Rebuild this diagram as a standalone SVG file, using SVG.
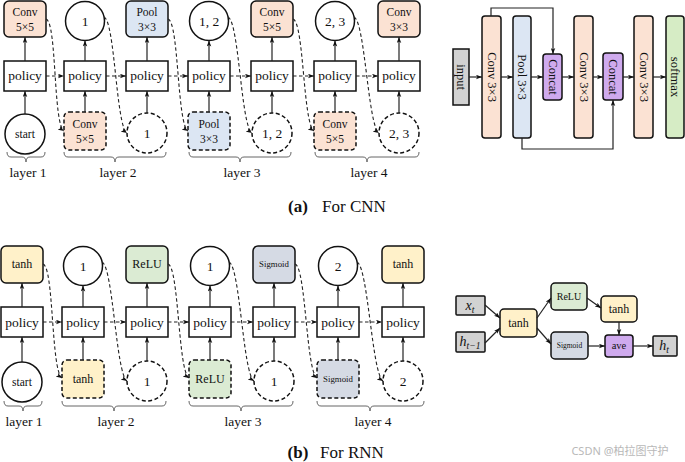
<svg xmlns="http://www.w3.org/2000/svg" width="685" height="462" viewBox="0 0 685 462">
<style>
text{font-family:"Liberation Serif","Times New Roman",serif;fill:#111;text-anchor:middle}
.n{stroke:#111;stroke-width:1.5}
.d{stroke-dasharray:4 2.5}
.pol{fill:#fff}
.cir{fill:#fff}
.or{fill:#fbe2d3}
.bl{fill:#dce6f3}
.pu{fill:#cfaaee}
.gr{fill:#d6ecc5}
.gy{fill:#d2d2d2}
.ye{fill:#fff1c9}
.rg{fill:#dbebd3}
.sg{fill:#d5dae4}
.t11{font-size:11.5px}
.t13{font-size:13.5px}
.sig{font-size:8.8px}
.c{fill:none;stroke:#222;stroke-width:1.2}
.dc{fill:none;stroke:#222;stroke-width:1.1;stroke-dasharray:3.5 2.5}
.br{fill:none;stroke:#666;stroke-width:1}
.rot{font-size:12.5px}
.cap{font-size:17px}
</style>
<defs>
<marker id="ah" viewBox="0 0 8 6" refX="8" refY="3" markerWidth="6" markerHeight="5" orient="auto" markerUnits="userSpaceOnUse"><path d="M0,0 L8,3 L0,6 L2,3 z" fill="#111"/></marker>
</defs>

<!-- ===== CNN search ===== -->
<g id="cnn-top-0"><rect class="n or" x="4" y="1" width="42" height="36" rx="5"/><text class="t11" x="25" y="16">Conv</text><text class="t11" x="25" y="31">5×5</text></g>
<g id="cnn-top-1"><circle class="n cir" cx="85" cy="21" r="19.5"/><text class="t13" x="85" y="26">1</text></g>
<g id="cnn-top-2"><rect class="n bl" x="126" y="1" width="42" height="36" rx="5"/><text class="t11" x="147" y="16">Pool</text><text class="t11" x="147" y="31">3×3</text></g>
<g id="cnn-top-3"><circle class="n cir" cx="209" cy="21" r="19.5"/><text class="t13" x="209" y="26">1, 2</text></g>
<g id="cnn-top-4"><rect class="n or" x="251" y="1" width="42" height="36" rx="5"/><text class="t11" x="272" y="16">Conv</text><text class="t11" x="272" y="31">5×5</text></g>
<g id="cnn-top-5"><circle class="n cir" cx="335" cy="21" r="19.5"/><text class="t13" x="335" y="26">2, 3</text></g>
<g id="cnn-top-6"><rect class="n or" x="378" y="1" width="42" height="36" rx="5"/><text class="t11" x="399" y="16">Conv</text><text class="t11" x="399" y="31">3×3</text></g>

<g id="cnn-pol-0"><rect class="n pol" x="4" y="61" width="42" height="30"/><text class="t13" x="25" y="80">policy</text></g>
<g id="cnn-pol-1"><rect class="n pol" x="64" y="61" width="42" height="30"/><text class="t13" x="85" y="80">policy</text></g>
<g id="cnn-pol-2"><rect class="n pol" x="126" y="61" width="42" height="30"/><text class="t13" x="147" y="80">policy</text></g>
<g id="cnn-pol-3"><rect class="n pol" x="188" y="61" width="42" height="30"/><text class="t13" x="209" y="80">policy</text></g>
<g id="cnn-pol-4"><rect class="n pol" x="251" y="61" width="42" height="30"/><text class="t13" x="272" y="80">policy</text></g>
<g id="cnn-pol-5"><rect class="n pol" x="314" y="61" width="42" height="30"/><text class="t13" x="335" y="80">policy</text></g>
<g id="cnn-pol-6"><rect class="n pol" x="378" y="61" width="42" height="30"/><text class="t13" x="399" y="80">policy</text></g>

<g id="cnn-bot-0"><circle class="n cir" cx="25" cy="134" r="20"/><text class="t11" x="25" y="138">start</text></g>
<g id="cnn-bot-1"><rect class="n d or" x="64" y="112" width="42" height="38" rx="5"/><text class="t11" x="85" y="128">Conv</text><text class="t11" x="85" y="143">5×5</text></g>
<g id="cnn-bot-2"><circle class="n d cir" cx="147" cy="133" r="20"/><text class="t13" x="147" y="138">1</text></g>
<g id="cnn-bot-3"><rect class="n d bl" x="188" y="112" width="42" height="38" rx="5"/><text class="t11" x="209" y="128">Pool</text><text class="t11" x="209" y="143">3×3</text></g>
<g id="cnn-bot-4"><circle class="n d cir" cx="272" cy="133" r="20"/><text class="t13" x="272" y="138">1, 2</text></g>
<g id="cnn-bot-5"><rect class="n d or" x="314" y="112" width="42" height="38" rx="5"/><text class="t11" x="335" y="128">Conv</text><text class="t11" x="335" y="143">5×5</text></g>
<g id="cnn-bot-6"><circle class="n d cir" cx="399" cy="133" r="20"/><text class="t13" x="399" y="138">2, 3</text></g>

<g id="cnn-braces">
<path class="br" d="M7 152 Q7 157 11 157 H22 Q26 157 26 162 Q26 157 30 157 H41 Q45 157 45 152"/>
<path class="br" d="M64 152 Q64 157 68 157 H111 Q115 157 115 162 Q115 157 119 157 H162 Q166 157 166 152"/>
<path class="br" d="M189 152 Q189 157 193 157 H236 Q240 157 240 162 Q240 157 244 157 H287 Q291 157 291 152"/>
<path class="br" d="M315 152 Q315 157 319 157 H363 Q367 157 367 162 Q367 157 371 157 H415 Q419 157 419 152"/>
<text class="t13" x="28" y="177">layer 1</text>
<text class="t13" x="118" y="177">layer 2</text>
<text class="t13" x="242" y="177">layer 3</text>
<text class="t13" x="369" y="177">layer 4</text>
</g>

<g id="cnn-connectors">
<path class="c" marker-end="url(#ah)" d="M25 61 V37"/>
<path class="c" marker-end="url(#ah)" d="M85 61 V40.5"/>
<path class="c" marker-end="url(#ah)" d="M147 61 V37"/>
<path class="c" marker-end="url(#ah)" d="M209 61 V40.5"/>
<path class="c" marker-end="url(#ah)" d="M272 61 V37"/>
<path class="c" marker-end="url(#ah)" d="M335 61 V40.5"/>
<path class="c" marker-end="url(#ah)" d="M399 61 V37"/>
<path class="c" marker-end="url(#ah)" d="M25 114 V91"/>
<path class="c" marker-end="url(#ah)" d="M85 112 V91"/>
<path class="c" marker-end="url(#ah)" d="M147 113 V91"/>
<path class="c" marker-end="url(#ah)" d="M209 112 V91"/>
<path class="c" marker-end="url(#ah)" d="M272 113 V91"/>
<path class="c" marker-end="url(#ah)" d="M335 112 V91"/>
<path class="c" marker-end="url(#ah)" d="M399 113 V91"/>
<path class="dc" marker-end="url(#ah)" d="M46 76 H64"/>
<path class="dc" marker-end="url(#ah)" d="M106 76 H126"/>
<path class="dc" marker-end="url(#ah)" d="M168 76 H188"/>
<path class="dc" marker-end="url(#ah)" d="M230 76 H251"/>
<path class="dc" marker-end="url(#ah)" d="M293 76 H314"/>
<path class="dc" marker-end="url(#ah)" d="M356 76 H378"/>
<path class="dc" marker-end="url(#ah)" d="M46 19 C57 22, 53 124, 64 131"/>
<path class="dc" marker-end="url(#ah)" d="M104 17 C115 21, 116 126, 127 133"/>
<path class="dc" marker-end="url(#ah)" d="M168 19 C179 22, 177 124, 188 131"/>
<path class="dc" marker-end="url(#ah)" d="M228 17 C239 21, 241 126, 252 133"/>
<path class="dc" marker-end="url(#ah)" d="M293 19 C304 22, 303 124, 314 131"/>
<path class="dc" marker-end="url(#ah)" d="M354 17 C365 21, 368 126, 379 133"/>
</g>

<!-- ===== CNN architecture ===== -->
<g id="arch-input"><rect class="n gy" x="453" y="49" width="16" height="56"/><text class="rot" transform="translate(461 77) rotate(90)" y="4">input</text></g>
<g id="arch-conv1"><rect class="n or" x="482" y="16" width="19" height="122" rx="3"/><text class="rot" transform="translate(491.5 77) rotate(90)" y="4">Conv 3×3</text></g>
<g id="arch-pool"><rect class="n bl" x="513" y="16" width="18" height="122" rx="3"/><text class="rot" transform="translate(522 77) rotate(90)" y="4">Pool 3×3</text></g>
<g id="arch-concat1"><rect class="n pu" x="543" y="54" width="19" height="46" rx="3"/><text class="rot" transform="translate(552.5 77) rotate(90)" y="4">Concat</text></g>
<g id="arch-conv2"><rect class="n or" x="574" y="16" width="19" height="122" rx="3"/><text class="rot" transform="translate(583.5 77) rotate(90)" y="4">Conv 3×3</text></g>
<g id="arch-concat2"><rect class="n pu" x="603" y="53" width="20" height="47" rx="3"/><text class="rot" transform="translate(613 77) rotate(90)" y="4">Concat</text></g>
<g id="arch-conv3"><rect class="n or" x="634" y="16" width="19" height="122" rx="3"/><text class="rot" transform="translate(643.5 77) rotate(90)" y="4">Conv 3×3</text></g>
<g id="arch-softmax"><rect class="n gr" x="666" y="16" width="18" height="122" rx="3"/><text class="rot" transform="translate(675 77) rotate(90)" y="4">softmax</text></g>
<g id="arch-connectors">
<path class="c" marker-end="url(#ah)" d="M469 77 H482"/>
<path class="c" marker-end="url(#ah)" d="M501 77 H513"/>
<path class="c" marker-end="url(#ah)" d="M531 77 H543"/>
<path class="c" marker-end="url(#ah)" d="M562 77 H574"/>
<path class="c" marker-end="url(#ah)" d="M593 77 H603"/>
<path class="c" marker-end="url(#ah)" d="M623 77 H634"/>
<path class="c" marker-end="url(#ah)" d="M653 77 H666"/>
<path class="c" marker-end="url(#ah)" d="M491 16 V8 H553 V54"/>
<path class="c" marker-end="url(#ah)" d="M522 138 V149 H613 V100"/>
</g>

<g id="caption-a"><text class="cap" x="298" y="212" style="font-weight:bold">(a)</text><text class="cap" x="354" y="212">For CNN</text></g>

<!-- ===== RNN search ===== -->
<g id="rnn-top-0"><rect class="n ye" x="1" y="246" width="42" height="37" rx="5"/><text style="font-size:12px" x="22" y="268">tanh</text></g>
<g id="rnn-top-1"><circle class="n cir" cx="83" cy="266" r="19.5"/><text class="t13" x="83" y="271">1</text></g>
<g id="rnn-top-2"><rect class="n rg" x="126" y="246" width="42" height="37" rx="5"/><text style="font-size:12px" x="147" y="268">ReLU</text></g>
<g id="rnn-top-3"><circle class="n cir" cx="210" cy="266" r="19.5"/><text class="t13" x="210" y="271">1</text></g>
<g id="rnn-top-4"><rect class="n sg" x="253" y="246" width="42" height="37" rx="5"/><text class="sig" x="274" y="267">Sigmoid</text></g>
<g id="rnn-top-5"><circle class="n cir" cx="338" cy="266" r="19.5"/><text class="t13" x="338" y="271">2</text></g>
<g id="rnn-top-6"><rect class="n ye" x="382" y="246" width="42" height="37" rx="5"/><text style="font-size:12px" x="403" y="268">tanh</text></g>

<g id="rnn-pol-0"><rect class="n pol" x="1" y="307" width="42" height="30"/><text class="t13" x="22" y="327">policy</text></g>
<g id="rnn-pol-1"><rect class="n pol" x="62" y="307" width="42" height="30"/><text class="t13" x="83" y="327">policy</text></g>
<g id="rnn-pol-2"><rect class="n pol" x="126" y="307" width="42" height="30"/><text class="t13" x="147" y="327">policy</text></g>
<g id="rnn-pol-3"><rect class="n pol" x="189" y="307" width="42" height="30"/><text class="t13" x="210" y="327">policy</text></g>
<g id="rnn-pol-4"><rect class="n pol" x="253" y="307" width="42" height="30"/><text class="t13" x="274" y="327">policy</text></g>
<g id="rnn-pol-5"><rect class="n pol" x="317" y="307" width="42" height="30"/><text class="t13" x="338" y="327">policy</text></g>
<g id="rnn-pol-6"><rect class="n pol" x="382" y="307" width="42" height="30"/><text class="t13" x="403" y="327">policy</text></g>

<g id="rnn-bot-0"><circle class="n cir" cx="22" cy="382" r="20"/><text class="t11" x="22" y="386">start</text></g>
<g id="rnn-bot-1"><rect class="n d ye" x="62" y="360" width="42" height="38" rx="5"/><text style="font-size:12px" x="83" y="383">tanh</text></g>
<g id="rnn-bot-2"><circle class="n d cir" cx="147" cy="381" r="20"/><text class="t13" x="147" y="386">1</text></g>
<g id="rnn-bot-3"><rect class="n d rg" x="189" y="360" width="42" height="38" rx="5"/><text style="font-size:12px" x="210" y="383">ReLU</text></g>
<g id="rnn-bot-4"><circle class="n d cir" cx="274" cy="381" r="20"/><text class="t13" x="274" y="386">1</text></g>
<g id="rnn-bot-5"><rect class="n d sg" x="317" y="360" width="42" height="38" rx="5"/><text class="sig" x="338" y="382">Sigmoid</text></g>
<g id="rnn-bot-6"><circle class="n d cir" cx="403" cy="381" r="20"/><text class="t13" x="403" y="386">2</text></g>

<g id="rnn-braces">
<path class="br" d="M4 401 Q4 406 8 406 H19 Q23 406 23 411 Q23 406 27 406 H38 Q42 406 42 401"/>
<path class="br" d="M62 401 Q62 406 66 406 H110 Q114 406 114 411 Q114 406 118 406 H162 Q166 406 166 401"/>
<path class="br" d="M189 401 Q189 406 193 406 H237 Q241 406 241 411 Q241 406 245 406 H289 Q293 406 293 401"/>
<path class="br" d="M317 401 Q317 406 321 406 H366 Q370 406 370 411 Q370 406 374 406 H420 Q424 406 424 401"/>
<text class="t13" x="24" y="426">layer 1</text>
<text class="t13" x="116" y="426">layer 2</text>
<text class="t13" x="243" y="426">layer 3</text>
<text class="t13" x="373" y="426">layer 4</text>
</g>

<g id="rnn-connectors">
<path class="c" marker-end="url(#ah)" d="M22 307 V283"/>
<path class="c" marker-end="url(#ah)" d="M83 307 V285.5"/>
<path class="c" marker-end="url(#ah)" d="M147 307 V283"/>
<path class="c" marker-end="url(#ah)" d="M210 307 V285.5"/>
<path class="c" marker-end="url(#ah)" d="M274 307 V283"/>
<path class="c" marker-end="url(#ah)" d="M338 307 V285.5"/>
<path class="c" marker-end="url(#ah)" d="M403 307 V283"/>
<path class="c" marker-end="url(#ah)" d="M22 362 V337"/>
<path class="c" marker-end="url(#ah)" d="M83 360 V337"/>
<path class="c" marker-end="url(#ah)" d="M147 361 V337"/>
<path class="c" marker-end="url(#ah)" d="M210 360 V337"/>
<path class="c" marker-end="url(#ah)" d="M274 361 V337"/>
<path class="c" marker-end="url(#ah)" d="M338 360 V337"/>
<path class="c" marker-end="url(#ah)" d="M403 361 V337"/>
<path class="dc" marker-end="url(#ah)" d="M43 322 H62"/>
<path class="dc" marker-end="url(#ah)" d="M104 322 H126"/>
<path class="dc" marker-end="url(#ah)" d="M168 322 H189"/>
<path class="dc" marker-end="url(#ah)" d="M231 322 H253"/>
<path class="dc" marker-end="url(#ah)" d="M295 322 H317"/>
<path class="dc" marker-end="url(#ah)" d="M359 322 H382"/>
<path class="dc" marker-end="url(#ah)" d="M43 264 C54 267, 51 371, 62 378"/>
<path class="dc" marker-end="url(#ah)" d="M102 262 C113 266, 116 374, 127 381"/>
<path class="dc" marker-end="url(#ah)" d="M168 264 C179 267, 178 371, 189 378"/>
<path class="dc" marker-end="url(#ah)" d="M229 262 C240 266, 243 374, 254 381"/>
<path class="dc" marker-end="url(#ah)" d="M295 264 C306 267, 306 371, 317 378"/>
<path class="dc" marker-end="url(#ah)" d="M357 262 C368 266, 372 374, 383 381"/>
</g>

<!-- ===== RNN cell ===== -->
<g id="cell-xt"><rect class="n gy" x="456" y="296" width="29" height="19" rx="1"/><text x="470" y="310" style="font-size:14px;font-style:italic">x<tspan dy="3" style="font-size:9.5px">t</tspan></text></g>
<g id="cell-ht1"><rect class="n gy" x="456" y="332" width="29" height="20" rx="1"/><text x="470" y="346" style="font-size:14px;font-style:italic">h<tspan dy="3" style="font-size:9.5px">t−1</tspan></text></g>
<g id="cell-tanh1"><rect class="n ye" x="500" y="309" width="37" height="28" rx="4"/><text style="font-size:12px" x="518.5" y="327">tanh</text></g>
<g id="cell-relu"><rect class="n rg" x="551" y="283" width="36" height="27" rx="4"/><text style="font-size:10px" x="569" y="300">ReLU</text></g>
<g id="cell-tanh2"><rect class="n ye" x="601" y="296" width="36" height="26" rx="4"/><text style="font-size:12px" x="619" y="313">tanh</text></g>
<g id="cell-sigmoid"><rect class="n sg" x="551" y="332" width="37" height="27" rx="4"/><text style="font-size:7.5px" x="569.5" y="348">Sigmoid</text></g>
<g id="cell-ave"><rect class="n pu" x="605" y="335" width="28" height="22" rx="3"/><text style="font-size:10.5px" x="619" y="349">ave</text></g>
<g id="cell-ht"><rect class="n gy" x="653" y="336" width="24" height="20" rx="1"/><text x="664" y="350" style="font-size:14px;font-style:italic">h<tspan dy="3" style="font-size:9.5px">t</tspan></text></g>
<g id="cell-connectors">
<path class="c" marker-end="url(#ah)" d="M485 305 L500 318"/>
<path class="c" marker-end="url(#ah)" d="M485 343 L500 328"/>
<path class="c" marker-end="url(#ah)" d="M537 318 L551 298"/>
<path class="c" marker-end="url(#ah)" d="M537 328 L551 344"/>
<path class="c" marker-end="url(#ah)" d="M587 298 L601 308"/>
<path class="c" marker-end="url(#ah)" d="M619 322 V335"/>
<path class="c" marker-end="url(#ah)" d="M588 346 H605"/>
<path class="c" marker-end="url(#ah)" d="M633 346 H653"/>
</g>

<g id="caption-b"><text class="cap" x="298" y="458" style="font-weight:bold">(b)</text><text class="cap" x="352" y="458">For RNN</text></g>
<text x="620" y="455" style="font-family:'Noto Sans','Noto Sans CJK SC',sans-serif;font-size:11px;fill:#b8b8b8">CSDN @柏拉图守护</text>
</svg>
